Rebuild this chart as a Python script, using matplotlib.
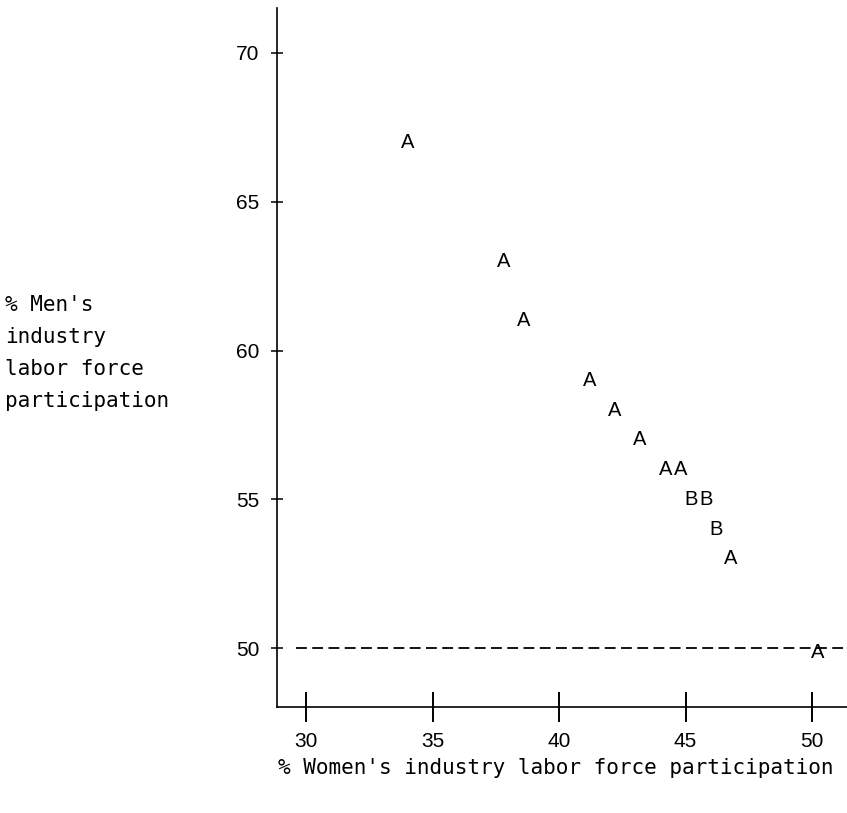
import matplotlib
matplotlib.use("Agg")
import matplotlib.pyplot as plt

# data (letters mark the points, B = two overlapping obs)
women = [34.0, 37.8, 38.6, 41.2, 42.2, 43.2, 44.2, 44.8, 45.2, 45.8, 46.2, 46.8, 50.2]
men = [67.0, 63.0, 61.0, 59.0, 58.0, 57.0, 56.0, 56.0, 55.0, 55.0, 54.0, 53.0, 49.85]
symbols = ['A', 'A', 'A', 'A', 'A', 'A', 'A', 'A', 'B', 'B', 'B', 'A', 'A']
ref_y = 50
xticks = [30, 35, 40, 45, 50]
yticks = [50, 55, 60, 65, 70]

fig = plt.figure(figsize=(8.47, 8.13), dpi=100)
ax = fig.add_axes([277 / 847, 1 - 707 / 813, 570 / 847, 699 / 813])
ax.set_xlim(28.85, 51.38)
ax.set_ylim(48.02, 71.51)

for s in ['top', 'right']:
    ax.spines[s].set_visible(False)
for s in ['left', 'bottom']:
    ax.spines[s].set_linewidth(1.2)

ax.set_xticks(xticks)
ax.set_yticks(yticks)
ax.tick_params(axis='x', length=0, pad=18, labelsize=15)
ax.tick_params(axis='y', direction='inout', length=9, width=1.1, pad=8, labelsize=15)
for lab in ax.get_xticklabels() + ax.get_yticklabels():
    lab.set_family('Liberation Sans')

# x ticks cross the axis line (SAS style)
ax.vlines(xticks, -0.021, 0.021, transform=ax.get_xaxis_transform(),
          color='black', lw=1.4, clip_on=False)

# reference line
ax.plot([29.6, 51.38], [ref_y, ref_y], color='black', lw=1.3,
        linestyle=(0, (6, 3)), clip_on=False)

for x, y, s in zip(women, men, symbols):
    ax.text(x, y, s, ha='center', va='center', fontsize=14.5,
            family='Liberation Sans', color='black')

fig.text(5 / 847, 1 - 353 / 813, "% Men's\nindustry\nlabor force\nparticipation",
         ha='left', va='center', family='DejaVu Sans Mono', fontsize=15.1,
         linespacing=1.77)
fig.text(278 / 847, 1 - 768 / 813, "% Women's industry labor force participation",
         ha='left', va='center', family='DejaVu Sans Mono', fontsize=15.1)

fig.savefig('out.png', dpi=100)
